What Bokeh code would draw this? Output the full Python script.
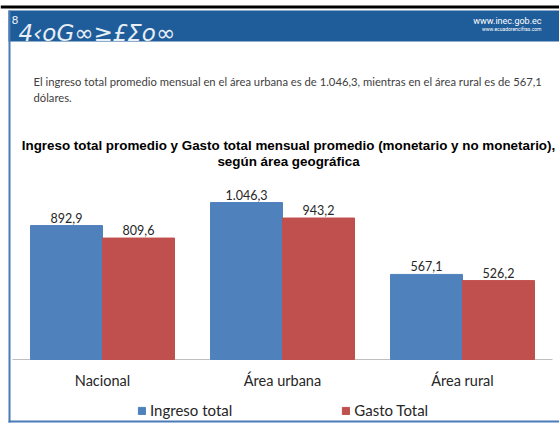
from bokeh.plotting import figure
from bokeh.models import (Range1d, ColumnDataSource, Label,
                          BoxAnnotation, Legend, LegendItem)
from bokeh.transform import dodge
from bokeh.core.properties import value
from bokeh.embed import file_html
from bokeh.resources import INLINE

# ---------------- data ----------------
categories = ["Nacional", "Área urbana", "Área rural"]
ingreso = [892.9, 1046.3, 567.1]
gasto = [809.6, 943.2, 526.2]
series_names = ["Ingreso total", "Gasto Total"]

title_lines = ["Ingreso total promedio y Gasto total mensual promedio (monetario y no monetario),",
               "según área geográfica"]
note_lines = ["El ingreso total promedio mensual en el área urbana es de 1.046,3, mientras en el área rural es de 567,1",
              "dólares."]


def fmt(v):
    s = f"{v:,.1f}"
    return s.replace(",", "X").replace(".", ",").replace("X", ".")


idx = list(range(len(categories)))
source = ColumnDataSource(dict(
    x=idx, cat=categories, ingreso=ingreso, gasto=gasto,
    ingreso_lbl=[fmt(v) for v in ingreso],
    gasto_lbl=[fmt(v) for v in gasto],
    zero=[0] * len(categories),
))

# ---------------- layout ----------------
W, H = 559, 425
X0 = 102          # canvas px of first category centre
STEP = 180        # canvas px per category
BASE = 359        # canvas px (from top) of the value axis zero
PX = 0.15         # canvas px per dollar

BLUE = "#4f81bd"
RED = "#c0504d"
TXT = "#262626"
FONT = "Lato"

p = figure(width=W, height=H,
           x_range=Range1d(-X0 / STEP, (W - X0) / STEP),
           y_range=Range1d(-(H - BASE) / PX, BASE / PX),
           output_backend="svg", toolbar_location=None,
           x_axis_location=None, y_axis_location=None,
           min_border=0, min_border_left=0, min_border_right=0,
           min_border_top=0, min_border_bottom=0)

p.outline_line_color = None
p.grid.grid_line_color = None
p.background_fill_color = "white"
p.border_fill_color = "white"


def sx(X):
    return X


def sy(Y):
    return H - Y


# ---------------- decorations (screen units) ----------------
def box(x0, x1, y0, y1, color):
    p.add_layout(BoxAnnotation(left=sx(x0), right=sx(x1), top=sy(y0), bottom=sy(y1),
                               left_units="screen", right_units="screen",
                               top_units="screen", bottom_units="screen",
                               fill_color=color, fill_alpha=1, line_color=None,
                               level="underlay"))


def label(X, Y, text, size, color=TXT, font=FONT, style="normal", align="left", base="middle"):
    p.add_layout(Label(x=sx(X), y=sy(Y), x_units="screen", y_units="screen",
                       text=text, text_font=font, text_font_size=size,
                       text_font_style=style, text_color=color,
                       text_align=align, text_baseline=base))


box(0, 559, 5, 8, "#000000")          # black top rule
box(8, 559, 10, 41, "#1f5d9a")        # banner
box(8, 10, 10, 422, "#4a7bb7")        # left border
box(8, 559, 420, 422, "#4a7bb7")      # bottom border

# banner artwork (decorative glyphs)
label(11, 19, "8", "11px", color="#e8eef6", font="DejaVu Sans", base="middle")
label(18, 45, "4‹oG∞≥£Σo∞", "23px", color="#e8eef6", font="DejaVu Sans",
      style="italic", base="bottom")
label(541, 20, "www.inec.gob.ec", "9px", color="white", font="Roboto", align="right")
label(541, 28, "www.ecuadorencifras.com", "5px", color="white", font="Roboto", align="right")

label(33, 81, note_lines[0], "11.25px", color="#404040")
label(33, 97, note_lines[1], "11.25px", color="#404040")

label(288, 145, title_lines[0], "13.4px", color="#000000", font="Liberation Sans",
      style="bold", align="center")
label(288, 161, title_lines[1], "13.4px", color="#000000", font="Liberation Sans",
      style="bold", align="center")

# ---------------- chart ----------------
# category (x) axis line
p.segment(x0=[-0.5], x1=[len(categories) - 0.5], y0=[0], y1=[0],
          line_color="#bfbfbf", line_width=1)

r1 = p.vbar(x=dodge("x", -0.2, range=p.x_range), top="ingreso", width=0.4,
            source=source, fill_color=BLUE, line_color=BLUE)
r2 = p.vbar(x=dodge("x", 0.2, range=p.x_range), top="gasto", width=0.4,
            source=source, fill_color=RED, line_color=RED)

p.text(x=dodge("x", -0.2, range=p.x_range), y="ingreso", text="ingreso_lbl",
       source=source, text_align="center", text_baseline="bottom", y_offset=-3,
       text_font=value(FONT), text_font_size="12.5px", text_color=TXT)
p.text(x=dodge("x", 0.2, range=p.x_range), y="gasto", text="gasto_lbl",
       source=source, text_align="center", text_baseline="bottom", y_offset=-3,
       text_font=value(FONT), text_font_size="12.5px", text_color=TXT)

# category labels
p.text(x="x", y="zero", text="cat", source=source, text_align="center",
       text_baseline="middle", y_offset=21,
       text_font=value(FONT), text_font_size="14.5px", text_color=TXT)

legend = Legend(items=[LegendItem(label=series_names[0], renderers=[r1]),
                       LegendItem(label=series_names[1], renderers=[r2])],
                orientation="horizontal", location=(137, sy(419)),
                glyph_width=9, glyph_height=9, label_standoff=4, spacing=109,
                padding=0, margin=0, border_line_color=None,
                background_fill_alpha=0,
                label_text_font=FONT, label_text_font_size="15px",
                label_text_color=TXT)
p.add_layout(legend)

open("out.html", "w").write(file_html(p, INLINE))
